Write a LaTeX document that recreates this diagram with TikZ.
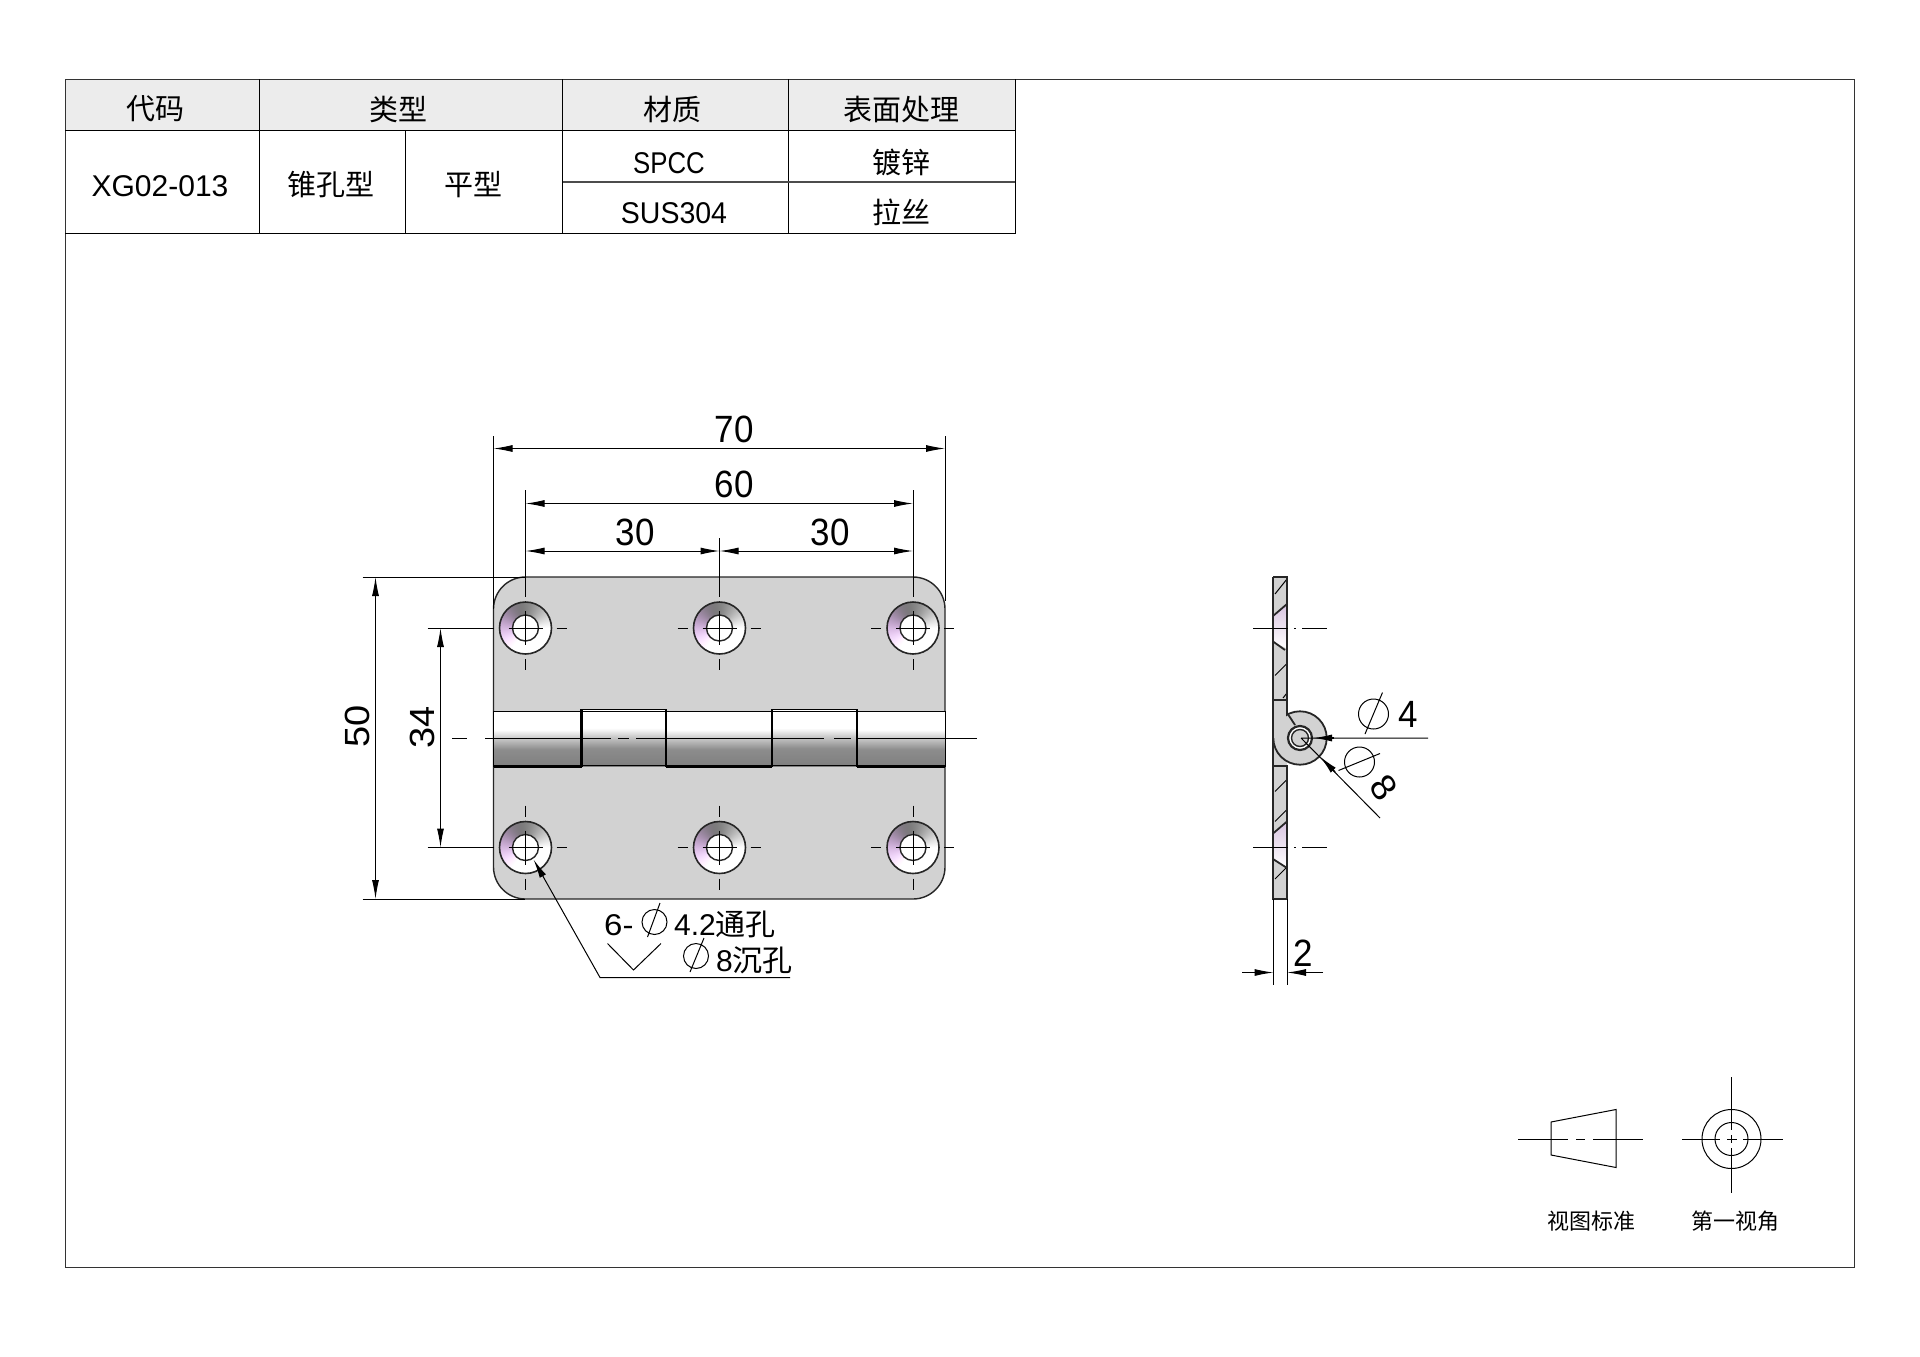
\documentclass[tikz,border=0pt]{standalone}
\usepackage{fontspec}
\usepackage{amsmath}
\setmainfont{Liberation Sans}
\newfontfamily\cjk{Noto Sans CJK SC}
\usetikzlibrary{arrows.meta}
\definecolor{platefill}{gray}{0.825}
\definecolor{headfill}{gray}{0.925}
\definecolor{lilac}{RGB}{216,196,224}
\pgfdeclareverticalshading{barrel}{100bp}{color(0bp)=(black!42);color(25bp)=(black!50);color(40bp)=(black!45);color(50bp)=(black!22);color(58bp)=(white);color(100bp)=(white)}
\pgfdeclarefunctionalshading{sink}{\pgfpoint{-26bp}{-26bp}}{\pgfpoint{26bp}{26bp}}{}{
  exch atan
  dup 300 sub cos
  0.36 mul 0.82 add
  dup 1 gt {pop 1} if
  exch 180 sub cos
  dup 0 lt {pop 0} if
  dup mul
  2 copy 0.2 mul add
  3 1 roll
  2 copy 0.08 mul add
  3 1 roll
  0.24 mul add
}
\tikzset{
  dimtip/.tip={Latex[length=19pt,width=7pt]},
  dimline/.style={line width=1pt,dimtip-dimtip},
  oneline/.style={line width=1pt,-dimtip},
  hairline/.style={line width=1pt},
  outline/.style={line width=1.4pt,black!85},
  cell/.style={font=\cjk\fontsize{29}{29}\selectfont,inner sep=0pt},
  latin/.style={font=\fontsize{30}{30}\selectfont,inner sep=0pt},
  dimtext/.style={font=\fontsize{38}{38}\selectfont,inner sep=0pt,xscale=.92},
  note/.style={font=\fontsize{30}{30}\selectfont,inner sep=0pt,anchor=base west},
  caption/.style={font=\cjk\fontsize{22}{22}\selectfont,inner sep=0pt}
}
\begin{document}
\begin{tikzpicture}[x=1pt,y=-1pt]
  \useasboundingbox (0,0) rectangle (1920,1357);
  \fill[headfill] (65,79) rectangle (1015,130.5);
  \draw[hairline,black!80] (65,79) rectangle (1854,1267);
  \draw[hairline] (65,130.5) -- (1015,130.5) (65,233.5) -- (1015,233.5)
    (259,79) -- (259,233.5) (562.5,79) -- (562.5,233.5) (788.5,79) -- (788.5,233.5) (1015,79) -- (1015,233.5);
  \draw[line width=.7pt] (405,130.5) -- (405,233.5);
  \draw[line width=1.4pt,black!70] (562.5,182) -- (1015,182);
  \node[cell] (code) at (155.5,109) {代码};
  \node[cell] (kind) at (398.5,109) {类型};
  \node[cell] (matl) at (672,109) {材质};
  \node[cell] (surf) at (901,109) {表面处理};
  \node[latin] (part) at (160,186.5) {XG02-013};
  \node[cell] (cone) at (331,185) {锥孔型};
  \node[cell] (flat) at (473,185) {平型};
  \node[latin,xscale=.86] (spcc) at (669,163) {SPCC};
  \node[latin,xscale=.95] (sus) at (674,213) {SUS304};
  \node[cell] (zinc) at (901,162.5) {镀锌};
  \node[cell] (wire) at (901,212) {拉丝};
  \draw[outline,fill=platefill,rounded corners=32pt] (493.5,577) rectangle (945,899);
  \foreach \hy in {628,847.5}
    \foreach \hx in {525.5,719.5,913} {
      \draw[outline,line width=1.6pt,shading=sink] (\hx,\hy) circle (26);
      \draw[outline,fill=white] (\hx,\hy) circle (13);
      \draw[hairline] (\hx-17,\hy) -- (\hx+17,\hy) (\hx,\hy-17) -- (\hx,\hy+17)
        (\hx+31,\hy) -- (\hx+41,\hy) (\hx-42,\hy) -- (\hx-32,\hy)
        (\hx,\hy+31) -- (\hx,\hy+42) (\hx,\hy-42) -- (\hx,\hy-31);
    }
  \shade[shading=barrel] (493.5,711) rectangle (945,766);
  \shade[shading=barrel] (581.5,709) rectangle (666,765);
  \shade[shading=barrel] (772,709) rectangle (857,765);
  \draw[hairline] (493.5,711) -- (945,711) (581.5,709) -- (666,709) (772,709) -- (857,709) (493.5,711) -- (493.5,767) (945,711) -- (945,767);
  \draw[line width=2.8pt] (493.5,766.5) -- (581.5,766.5) (666,766.5) -- (772,766.5) (857,766.5) -- (945,766.5)
    (581.5,709) -- (581.5,767) (666,709) -- (666,767) (772,709) -- (772,767) (857,709) -- (857,767);
  \draw[line width=1pt] (581.5,765) -- (666,765) (772,765) -- (857,765);
  \draw[hairline] (452,738) -- (467,738) (485,738) -- (611,738) (618,738) -- (629,738) (636,738) -- (824,738) (834,738) -- (851,738) (858,738) -- (977,738);
  \draw[hairline] (493.5,436) -- (493.5,609) (945,436) -- (945,601) (525.5,490) -- (525.5,594) (913,490) -- (913,594) (719.5,538) -- (719.5,597);
  \draw[dimline] (493.5,448.5) -- (945,448.5);
  \draw[dimline] (525.5,503.5) -- (913,503.5);
  \draw[dimline] (525.5,551) -- (719.5,551);
  \draw[dimline] (719.5,551) -- (913,551);
  \node[dimtext] (wd70) at (734,429.5) {70};
  \node[dimtext] (wd60) at (734,484) {60};
  \node[dimtext] (wd30a) at (635,532) {30};
  \node[dimtext] (wd30b) at (830,532) {30};
  \draw[hairline] (362.5,577) -- (525,577) (362.5,899) -- (525,899) (427.5,628) -- (493.5,628) (427.5,847.5) -- (493.5,847.5);
  \draw[dimline] (375.5,577) -- (375.5,899);
  \draw[dimline] (440.5,628) -- (440.5,847.5);
  \node[dimtext,rotate=90] (ht50) at (357,726) {50};
  \node[dimtext,rotate=90] (ht34) at (422,727) {34};
  \coordinate (tipa) at (533.5,859.5);
  \coordinate (bend) at (600,977.5);
  \coordinate (tail) at (790,977.5);
  \draw[oneline] (tail) -- (bend) -- (tipa);
  \node[note,xscale=1.1] (six) at (604,935) {6-};
  \node[note] (thru) at (674,935) {4.2{\cjk 通孔}};
  \node[note] (sunk) at (716,971.5) {8{\cjk 沉孔}};
  \draw[hairline] (654.5,922) circle (12.5) (660,903) -- (647.5,937);
  \draw[hairline] (696,956) circle (12.5) (704,938) -- (690,972);
  \draw[hairline] (607.5,943.5) -- (633.5,970) -- (661,943.5);
  \fill[platefill] (1273,577) rectangle (1287,899);
  \shade[top color=lilac,bottom color=white] (1273,616) -- (1287,604) -- (1287,648.5) -- (1273,641.5) -- cycle;
  \shade[top color=lilac,bottom color=white] (1273,833.5) -- (1287,821.5) -- (1287,868) -- (1273,859) -- cycle;
  \draw[hairline] (1275,594) -- (1287,579) (1275,675.5) -- (1287,663.5) (1283,698) -- (1287,693)
    (1275,791.5) -- (1287,779.5) (1275,821.5) -- (1287,809.5) (1275,879) -- (1287,867);
  \draw[outline,line width=1.8pt] (1273,577) -- (1287,577) -- (1287,700) -- (1273,700)
    (1273,577) -- (1273,899) -- (1287,899) -- (1287,766) -- (1273,766)
    (1273,616) -- (1287,604) (1273,641.5) -- (1285,650) (1273,833.5) -- (1287,821.5) (1273,859) -- (1287,868);
  \draw[outline,line width=1.8pt,fill=platefill] (1300,738) circle (26.7);
  \fill[platefill] (1274,701) rectangle (1286,738);
  \draw[outline,line width=1.8pt] (1287,700) -- (1287,715) (1288.5,715) -- (1295,725);
  \draw[outline,line width=2.2pt,fill=white] (1300,738) circle (12);
  \draw[outline,line width=1.4pt,fill=platefill] (1300,738) circle (8.5);
  \draw[hairline] (1253,628) -- (1288,628) (1294,628) -- (1296,628) (1302,628) -- (1327,628)
    (1253,847.5) -- (1288,847.5) (1294,847.5) -- (1296,847.5) (1302,847.5) -- (1327,847.5);
  \coordinate (pinc) at (1301,738);
  \coordinate (pint) at (1428,738);
  \coordinate (pinb) at (1313,738);
  \coordinate (curlt) at (1380,818);
  \coordinate (curlb) at (1320,756.5);
  \draw[hairline] (pinc) -- (pint) (pinc) -- (curlt);
  \draw[oneline,line width=1.4pt] (1334,738) -- (pinb);
  \draw[oneline,line width=1.4pt] (1335,772) -- (curlb);
  \draw[hairline] (1373.5,714) circle (15) (1382.5,692.5) -- (1365,734);
  \draw[hairline] (1359.5,762) circle (15) (1338.5,770.5) -- (1380,753.5);
  \node[dimtext] (dia4) at (1408,714) {4};
  \node[dimtext,rotate=-55] (dia8) at (1383.5,787.5) {8};
  \draw[hairline] (1273.5,899) -- (1273.5,984.5) (1287,899) -- (1287,984.5);
  \draw[oneline] (1242,972.5) -- (1273.5,972.5);
  \draw[oneline] (1323,972.5) -- (1287,972.5);
  \node[dimtext] (thk2) at (1303,953) {2};
  \draw[hairline] (1518,1139) -- (1568,1139) (1576,1139) -- (1585,1139) (1593,1139) -- (1643,1139);
  \draw[hairline] (1551,1122) -- (1616,1109.5) -- (1616,1167.5) -- (1551,1155) -- cycle;
  \draw[hairline] (1731.5,1139) circle (29.5) (1731.5,1139) circle (16.5);
  \draw[hairline] (1682,1139) -- (1720,1139) (1727,1139) -- (1737,1139) (1743,1139) -- (1783,1139)
    (1731.5,1077) -- (1731.5,1130) (1731.5,1135) -- (1731.5,1143) (1731.5,1148) -- (1731.5,1193);
  \node[caption] (capa) at (1591,1221) {视图标准};
  \node[caption] (capb) at (1735,1221) {第一视角};
\end{tikzpicture}
\end{document}
